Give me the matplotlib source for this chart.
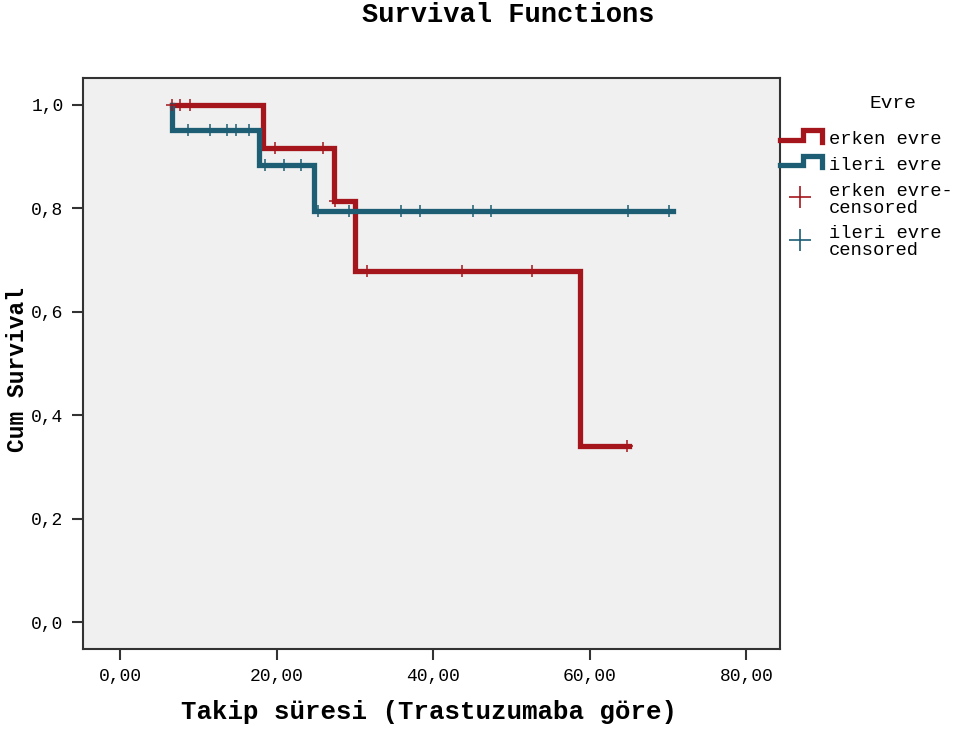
import matplotlib
matplotlib.use("Agg")
import matplotlib.pyplot as plt
from matplotlib.lines import Line2D
import numpy as np

W, H = 965, 729

# Kaplan-Meier steps (time, survival after that time)
red_t = [6.6, 18.3, 27.3, 30.0, 58.7, 65.0]
red_s = [1.0, 0.917, 0.815, 0.679, 0.340, 0.340]
red_cens = [6.7, 7.7, 8.9, 19.8, 25.9, 27.4, 31.5, 43.7, 52.6, 64.8]

blue_t = [6.6, 6.6, 17.8, 24.8, 70.6]
blue_s = [1.0, 0.952, 0.884, 0.795, 0.795]
blue_cens = [8.7, 11.5, 13.7, 14.8, 16.5, 18.5, 20.9, 23.1, 25.3, 29.2,
             35.9, 38.3, 45.1, 47.4, 64.9, 70.1]

groups = ["erken evre", "ileri evre"]
x_ticks = [0, 20, 40, 60, 80]
x_labels = ["0,00", "20,00", "40,00", "60,00", "80,00"]
y_ticks = [0.0, 0.2, 0.4, 0.6, 0.8, 1.0]
y_labels = ["0,0", "0,2", "0,4", "0,6", "0,8", "1,0"]

RED = "#a4161c"
BLUE = "#1d5e74"
MONO = "Liberation Mono"


def step_value(ts, ss, t):
    idx = np.searchsorted(ts, t, side="right") - 1
    return ss[max(idx, 0)]


fig = plt.figure(figsize=(W / 100, H / 100), dpi=100)
ax = fig.add_axes([83 / W, 1 - 649 / H, (780 - 83) / W, (649 - 78) / H])
ax.set_facecolor("#f0f0f0")

ax.step(red_t, red_s, where="post", color=RED, lw=3.8, solid_joinstyle="miter")
ax.step(blue_t, blue_s, where="post", color=BLUE, lw=3.8, solid_joinstyle="miter")

ax.plot(red_cens, [step_value(red_t, red_s, t) for t in red_cens], ls="none",
        marker="+", ms=8, mew=1.1, color=RED)
ax.plot(blue_cens, [step_value(blue_t, blue_s, t) for t in blue_cens], ls="none",
        marker="+", ms=8, mew=1.1, color=BLUE)

ax.set_xlim(-4.73, 84.3)
ax.set_ylim(-0.052, 1.052)
ax.set_xticks(x_ticks)
ax.set_xticklabels(x_labels, fontfamily=MONO, fontsize=13)
ax.set_yticks(y_ticks)
ax.set_yticklabels(y_labels, fontfamily=MONO, fontsize=13)
ax.tick_params(direction="out", length=8, width=1.5, color="#333333", pad=6)
for sp in ax.spines.values():
    sp.set_color("#333333")
    sp.set_linewidth(1.5)

fig.text(508 / W, 1 - 15 / H, "Survival Functions", ha="center", va="center",
         fontfamily=MONO, fontweight="bold", fontsize=19.5)
fig.text(429 / W, 1 - 712 / H, "Takip süresi (Trastuzumaba göre)", ha="center",
         va="center", fontfamily=MONO, fontweight="bold", fontsize=18.5)
fig.text(18 / W, 1 - 370 / H, "Cum Survival", ha="center", va="center",
         rotation=90, fontfamily=MONO, fontweight="bold", fontsize=16.5)

# legend drawn by hand (SPSS style, outside the plot frame)
def fx(x):
    return x / W


def fy(y):
    return 1 - y / H


fig.text(fx(893), fy(103), "Evre", ha="center", va="center",
         fontfamily=MONO, fontsize=14)
for col, yl, yu, lab in [(RED, 140, 130, groups[0]), (BLUE, 165, 156, groups[1])]:
    xs = [780, 803, 803, 822, 822]
    ys = [yl, yl, yu, yu, yl + 2]
    fig.add_artist(Line2D([fx(v) for v in xs], [fy(v) for v in ys],
                          color=col, lw=3.8, solid_joinstyle="miter"))
    fig.text(fx(829), fy(yl), lab, ha="left", va="center",
             fontfamily=MONO, fontsize=13.5)

for col, ym, yt, lab in [(RED, 197, 200, groups[0] + "-\ncensored"),
                         (BLUE, 240, 242, groups[1] + "\ncensored")]:
    fig.add_artist(Line2D([fx(800)], [fy(ym)], ls="none", marker="+",
                          ms=16, mew=1.2, color=col))
    fig.text(fx(829), fy(yt), lab, ha="left", va="center",
             fontfamily=MONO, fontsize=13.5, linespacing=0.95)

fig.savefig("out.png", dpi=100)
